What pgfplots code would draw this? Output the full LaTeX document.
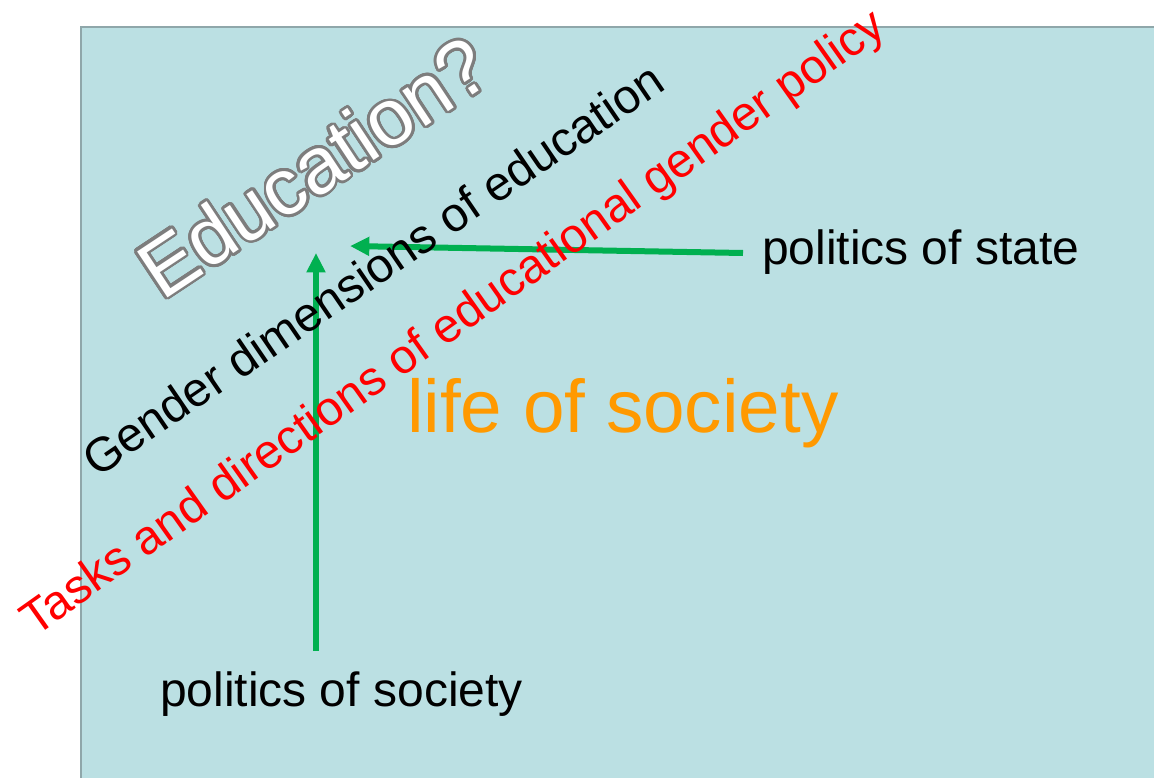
\documentclass[border=0pt]{standalone}
\usepackage{pgfplots}
\pgfplotsset{compat=1.18}
\usetikzlibrary{arrows.meta}
\usepackage{fontspec}
\setmainfont{Liberation Sans}
\usepackage{contour}
\contourlength{2.0pt}
\contournumber{32}
\definecolor{boxblue}{RGB}{187,224,227}
\definecolor{boxborder}{RGB}{143,167,170}
\definecolor{arrgreen}{RGB}{0,176,80}
\definecolor{txtorange}{RGB}{255,153,0}
\definecolor{outlinegray}{RGB}{125,125,125}
\begin{document}
\begin{tikzpicture}
\begin{axis}[name=ax, scale only axis, width=865.5pt, height=583.5pt,
  xmin=0, xmax=1154, ymin=0, ymax=778, y dir=reverse, hide axis, clip=false]
% background box
\addplot[fill=boxblue, draw=none] coordinates {(80,26) (1154,26) (1154,778) (80,778)} -- cycle;
\addplot[draw=boxborder, line width=1.9pt] coordinates {(81,778) (81,27) (1154,27)};
% arrows
\addplot[draw=arrgreen, line width=4.5pt, -{Triangle[length=14.5pt, width=13.5pt]}]
  coordinates {(316,651) (316,253)};
\addplot[draw=arrgreen, line width=4.5pt, -{Triangle[length=14.5pt, width=13.5pt]}]
  coordinates {(743,253) (350,246)};
% texts
\node[anchor=base west, inner sep=0pt, outer sep=0pt, text=black]
  at (axis cs:762,264) {\fontsize{36}{40}\selectfont politics of state};
\node[anchor=base west, inner sep=0pt, outer sep=0pt, text=black]
  at (axis cs:160,706) {\fontsize{36}{40}\selectfont politics of society};
\node[anchor=base west, inner sep=0pt, outer sep=0pt, text=txtorange]
  at (axis cs:407,432) {\fontsize{56}{60}\selectfont life of society};
\node[anchor=base west, inner sep=0pt, outer sep=0pt, text=black, rotate=34.3]
  at (axis cs:97,478) {\fontsize{36}{40}\selectfont Gender dimensions of education};
\node[anchor=base west, inner sep=0pt, outer sep=0pt, text=red, rotate=35.3]
  at (axis cs:35,637) {\fontsize{36}{40}\selectfont Tasks and directions of educational gender policy};
\node[anchor=base west, inner sep=0pt, outer sep=0pt, text=white, rotate=33.5]
  at (axis cs:162,301) {\fontsize{60}{64}\selectfont\contour{outlinegray}{Education?}};
\end{axis}
\pgfresetboundingbox
\path (ax.south west) rectangle (ax.north east);
\end{tikzpicture}
\end{document}
